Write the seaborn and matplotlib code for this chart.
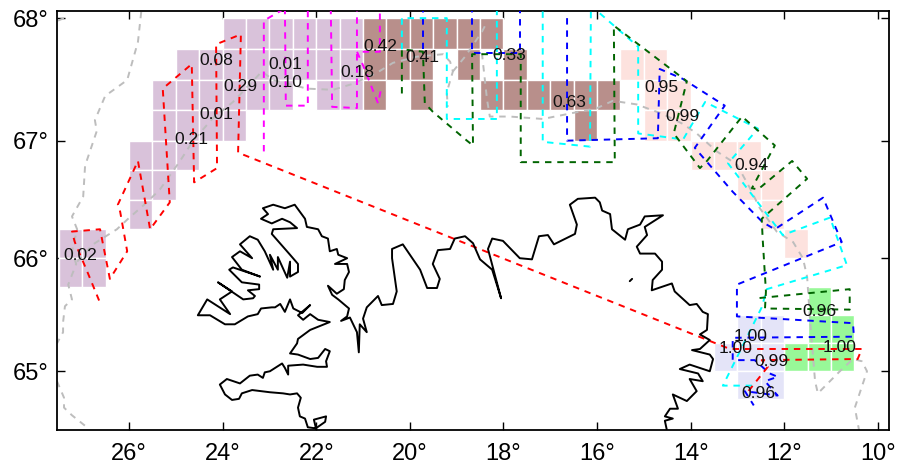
import numpy as np
import matplotlib
matplotlib.use("Agg")
import matplotlib.pyplot as plt
import seaborn as sns

cell_dlon = 0.5
cell_dlat = 0.25
# each: {north lat edge: [west lon edges]}
purple_cells = {68.0: [24, 23.5, 23, 22.5, 22, 21.5],
                67.75: [25, 24.5, 24, 23.5, 23, 22.5, 22, 21.5],
                67.5: [25.5, 25, 24.5, 24, 23.5, 23, 22, 21.5],
                67.25: [25.5, 25, 24.5, 24],
                67.0: [26, 25.5, 25],
                66.75: [26, 25.5],
                66.5: [26],
                66.25: [27.5, 27],
                66.0: [27.5, 27]}
brown_cells = {68.0: [21, 20.5, 20, 19.5, 19, 18.5],
               67.75: [21, 20.5, 20, 19, 18],
               67.5: [21, 20, 18.5, 18, 17.5, 17, 16.5, 16],
               67.25: [16.5]}
pink_cells = {67.75: [15.5, 15],
              67.5: [15, 14.5],
              67.25: [15, 14.5],
              67.0: [14, 13.5, 13],
              66.75: [13, 12.5],
              66.5: [12.5],
              66.25: [12]}
green_cells = {65.75: [11.5],
               65.5: [11.5, 11],
               65.25: [12, 11.5, 11]}
lavender_cells = {65.5: [13, 12.5],
                  65.25: [13.5, 13, 12.5],
                  65.0: [13, 12.5]}
cell_colors = ["#d9c2da", "#b88f8b", "#fde2de", "#98f898", "#e4e4f8"]

# ---- block labels
label_text = ["0.02", "0.21", "0.01", "0.29", "0.08", "0.01", "0.10", "0.18", "0.42", "0.41", "0.33",
              "0.63", "0.95", "0.99", "0.94", "0.96", "1.00", "1.00", "1.00", "0.99", "0.96"]
label_lon = [27.05, 24.66, 24.14, 23.63, 24.14, 22.67, 22.67, 21.13, 20.64, 19.74, 17.88,
             16.60, 14.63, 14.18, 12.69, 11.24, 12.71, 13.03, 10.81, 12.28, 12.56]
label_lat = [66.02, 67.01, 67.22, 67.45, 67.66, 67.63, 67.48, 67.56, 67.77, 67.68, 67.70,
             67.32, 67.44, 67.20, 66.79, 65.53, 65.31, 65.20, 65.21, 65.09, 64.80]

# ---- survey tracks
red_lon = [26.64, 26.88, 27.16, 27.22, 26.62, 26.41, 26.04, 26.19, 26.24, 25.81, 25.55, 25.13, 25.28, 24.66, 24.61,
           24.12, 24.14, 23.61, 23.67, 13.16, 10.34, 10.43, 12.48, 12.35, 12.84]
red_lat = [65.63, 65.87, 66.14, 66.23, 66.25, 65.82, 66.06, 66.40, 66.46, 66.83, 66.25, 66.48, 67.43, 67.63, 66.65,
           66.77, 67.79, 67.87, 66.90, 65.20, 65.20, 65.11, 65.10, 65.04, 64.78]
magenta_lon = [23.12, 23.12, 22.75, 22.67, 22.65, 22.18, 22.18, 21.69, 21.66, 21.13, 21.13, 20.64, 20.64, 21.13, 21.0, 20.68, 20.60]
magenta_lat = [66.91, 67.98, 68.06, 68.1, 67.29, 67.29, 68.1, 68.1, 67.28, 67.27, 68.1, 68.1, 67.73, 67.73, 67.62, 67.31, 67.45]
green_lon = [20.17, 20.17, 19.72, 19.68, 19.51, 18.78, 18.65, 18.67, 17.63, 17.63, 15.62, 15.64, 14.08, 14.36, 13.80, 13.65,
             12.90, 12.20, 12.69, 12.56, 11.83, 11.51, 12.48, 12.46, 12.39, 12.41, 10.60, 10.60, 12.58]
green_lat = [67.39, 67.75, 67.73, 67.31, 67.24, 67.0, 66.96, 67.71, 67.71, 66.82, 66.82, 67.94, 67.49, 67.06, 66.77, 66.83,
             67.20, 66.96, 66.60, 66.59, 66.83, 66.68, 66.34, 66.17, 65.71, 65.56, 65.55, 65.73, 65.65]
cyan_lon = [20.17, 20.17, 19.21, 19.21, 18.14, 18.14, 17.16, 17.16, 16.15, 16.13, 15.12, 15.12, 14.16, 13.69, 12.56, 13.20,
            12.03, 11.02, 10.66, 12.37, 12.48, 13.31, 12.58]
cyan_lat = [67.75, 68.0, 68.0, 67.18, 67.18, 68.1, 68.1, 66.99, 66.95, 68.1, 67.77, 67.06, 67.01, 67.32, 67.10, 66.81,
            66.20, 66.35, 65.94, 65.73, 65.57, 64.87, 64.87]
blue1_lon = [19.72, 19.72]
blue1_lat = [68.1, 67.75]
blue3_lon = [18.67, 18.67, 17.65, 17.65]
blue3_lat = [68.1, 67.72, 67.72, 68.1]
blue2_lon = [16.64, 16.64, 14.70, 14.66, 14.17, 13.27, 13.80, 13.91, 13.10, 12.46, 12.20, 11.17, 10.77, 13.01, 13.01,
             10.53, 10.51, 13.10, 13.10, 12.63, 12.31, 12.14, 12.41, 12.14, 12.84, 12.65]
blue2_lat = [68.0, 67.0, 67.02, 67.59, 67.51, 67.29, 67.0, 66.94, 66.57, 66.31, 66.25, 66.52, 66.14, 65.77, 65.49,
             65.43, 65.31, 65.30, 65.10, 65.10, 64.98, 64.95, 64.91, 64.78, 64.82, 64.69]

# ---- grey depth contours
grey1_lon = [25.74, 25.81, 26.04, 26.51, 26.73, 26.69, 26.94, 26.98, 27.22, 27.11, 27.22, 27.13, 27.30, 27.22, 27.37, 27.41, 27.41, 27.54]
grey1_lat = [68.05, 67.81, 67.50, 67.37, 67.17, 67.08, 66.79, 66.53, 66.36, 66.25, 66.06, 65.95, 65.77, 65.64, 65.58, 65.44, 65.35, 65.25]
grey2_lon = [27.54, 27.39, 27.39, 27.22, 26.90, 26.94]
grey2_lat = [64.91, 64.76, 64.67, 64.60, 64.49, 64.44]
grey3_lon = [27.11, 26.77, 26.26, 26.02, 25.62, 25.34, 24.91, 24.63, 24.20, 23.78, 23.16, 22.92, 22.20, 21.64, 21.21, 20.70,
             20.36, 19.85, 19.29, 19.14, 19.08, 19.21, 19.19]
grey3_lat = [65.97, 66.12, 66.25, 66.34, 66.48, 66.59, 66.83, 67.0, 67.19, 67.32, 67.57, 67.50, 67.43, 67.42, 67.47, 67.56,
             67.64, 67.69, 67.71, 67.65, 67.57, 67.40, 67.28]
grey4_lon = [19.08, 18.82, 18.46, 18.35]
grey4_lat = [67.57, 67.69, 67.89, 67.97]
grey5_lon = [18.46, 18.35, 18.29, 17.86, 17.16, 16.64, 16.0, 15.66, 15.15, 14.59, 14.17, 13.87, 13.44, 13.01, 12.73, 12.52,
             12.16, 11.81, 11.60, 11.51, 11.45, 11.34, 11.28, 10.81, 10.53, 10.34, 10.23, 10.49, 10.39]
grey5_lat = [67.72, 67.34, 67.20, 67.20, 67.18, 67.22, 67.27, 67.33, 67.30, 67.22, 67.14, 67.06, 66.91, 66.80, 66.60, 66.43,
             66.23, 66.14, 66.0, 65.84, 65.47, 64.91, 64.80, 65.0, 65.11, 65.09, 65.0, 64.67, 64.44]
grey6_lon = [27.52, 27.39]
grey6_lat = [67.98, 68.0]

# ---- coastline
coast_lon = [22.0, 22.05, 21.79, 21.81, 22.01, 22.18, 22.24, 22.35, 22.39, 22.33, 22.41, 22.56, 22.71, 22.99, 23.37, 23.59,
             23.65, 23.80, 23.95, 24.06, 23.91, 23.63, 23.42, 23.25, 23.14, 23.10, 22.99, 22.84, 22.73, 22.67, 22.60, 22.60,
             22.28, 21.98, 21.77, 21.79, 21.71, 21.81, 21.96, 22.13, 22.39, 22.56, 22.41, 22.39, 22.13, 21.71, 21.96, 22.13,
             22.28, 22.39, 22.13, 22.30, 22.49, 22.56, 22.67, 22.77, 22.88, 22.95, 23.18, 23.25, 23.46, 23.74, 23.95, 24.27,
             24.53, 24.33, 23.99, 23.84, 24.06, 23.80, 24.10, 23.56, 23.35, 23.31, 23.46, 23.22, 23.22, 23.59, 23.86, 23.78,
             23.20, 23.59, 23.80, 23.63, 23.37, 23.63, 23.42, 23.25, 23.10, 22.92, 22.99, 22.82, 22.82, 22.62, 22.56, 22.56,
             22.39, 22.39, 22.56, 22.95, 22.92, 22.41, 22.56, 22.73, 22.95, 23.18, 23.03, 23.14, 22.92, 22.67, 22.46, 22.24,
             22.20, 21.96, 21.88, 21.75, 21.71, 21.56, 21.53, 21.34, 21.60, 21.34, 21.30, 21.39, 21.41, 21.56, 21.75, 21.66,
             21.53, 21.30, 21.34, 21.47, 21.28, 21.13, 21.09, 21.07, 20.92, 21.0, 20.92, 20.68, 20.60, 20.36, 20.28, 20.38,
             20.38, 20.15, 19.78, 19.63, 19.42, 19.36, 19.51, 19.40, 19.14, 19.04, 18.82, 18.65, 18.50, 18.24, 18.14, 18.05,
             18.14, 18.33, 18.24, 18.01, 17.65, 17.39, 17.24, 17.05, 16.92, 16.47, 16.43, 16.58, 16.41, 16.04, 15.94, 15.89,
             15.72, 15.68, 15.40, 15.34, 15.08, 14.98, 14.59, 14.98, 14.93, 15.15, 15.08, 14.76, 14.61, 14.61, 14.81, 14.83,
             14.40, 14.34, 14.02, 13.87, 13.74, 13.63, 13.65, 13.80, 13.59, 13.80, 13.97, 13.59, 13.52, 13.59, 14.02, 14.23,
             13.84, 13.74, 14.02, 13.87, 14.08, 14.38, 14.27, 14.44, 14.55, 14.38, 14.55, 14.51]
coast_lat = [64.47, 64.56, 64.59, 64.54, 64.48, 64.49, 64.57, 64.59, 64.67, 64.76, 64.80, 64.79, 64.80, 64.81, 64.83, 64.80,
             64.75, 64.74, 64.79, 64.88, 64.93, 64.89, 64.96, 64.97, 64.94, 64.99, 65.00, 65.04, 65.07, 65.03, 64.97, 65.05,
             65.06, 65.04, 65.04, 65.09, 65.18, 65.20, 65.12, 65.11, 65.15, 65.16, 65.25, 65.29, 65.37, 65.44, 65.46, 65.51,
             65.46, 65.50, 65.59, 65.52, 65.56, 65.64, 65.53, 65.60, 65.57, 65.57, 65.56, 65.51, 65.49, 65.42, 65.42, 65.50,
             65.50, 65.64, 65.55, 65.51, 65.64, 65.71, 65.79, 65.64, 65.65, 65.67, 65.72, 65.73, 65.77, 65.79, 65.90, 65.92,
             65.84, 65.90, 66.01, 66.06, 66.0, 66.12, 66.19, 66.16, 66.06, 65.90, 66.03, 65.90, 66.01, 65.83, 65.97, 65.84,
             65.88, 65.95, 66.03, 66.21, 66.25, 66.26, 66.31, 66.34, 66.30, 66.34, 66.38, 66.43, 66.46, 66.43, 66.46, 66.34,
             66.27, 66.25, 66.19, 66.17, 66.06, 66.08, 66.03, 66.0, 65.95, 65.95, 65.88, 65.81, 65.73, 65.69, 65.76, 65.68,
             65.64, 65.56, 65.49, 65.45, 65.48, 65.35, 65.17, 65.42, 65.35, 65.47, 65.57, 65.67, 65.59, 65.60, 65.71, 66.0,
             66.08, 66.12, 65.90, 65.74, 65.74, 65.82, 65.95, 66.07, 66.08, 66.17, 66.19, 66.13, 65.99, 65.90, 65.77, 65.65,
             65.79, 66.08, 66.17, 66.15, 66.0, 65.99, 66.19, 66.20, 66.12, 66.21, 66.29, 66.46, 66.51, 66.52, 66.48, 66.41,
             66.38, 66.25, 66.16, 66.25, 66.29, 66.36, 66.37, 66.27, 66.20, 66.10, 66.04, 66.04, 65.97, 65.90, 65.81, 65.72,
             65.78, 65.71, 65.59, 65.60, 65.53, 65.51, 65.37, 65.33, 65.28, 65.20, 65.19, 65.15, 65.11, 65.0, 65.06, 65.02,
             64.98, 64.91, 64.93, 64.82, 64.73, 64.79, 64.66, 64.66, 64.59, 64.57, 64.55, 64.47]
islet_lon = [15.30, 15.25]
islet_lat = [65.80, 65.82]

x_ticks = [26, 24, 22, 20, 18, 16, 14, 12, 10]
y_ticks = [65, 66, 67, 68]

sns.set_style("ticks")
plt.rcParams["font.family"] = ["Liberation Sans", "DejaVu Sans"]


def merc(lat):
    lat = np.clip(np.asarray(lat, dtype=float), 0.0, 89.0)
    return np.degrees(np.log(np.tan(np.pi / 4 + np.radians(lat) / 2)))


def merc_inv(v):
    return np.degrees(2 * np.arctan(np.exp(np.radians(np.asarray(v, dtype=float)))) - np.pi / 2)


fig = plt.figure(figsize=(8.98, 4.73), dpi=100)
ax = fig.add_axes([57 / 898, 1 - 430 / 473, (889 - 57) / 898, (430 - 11) / 473])
ax.set_yscale("function", functions=(merc, merc_inv))

for cells, color in zip([purple_cells, brown_cells, pink_cells, green_cells, lavender_cells], cell_colors):
    for north, wests in cells.items():
        for west in wests:
            ax.bar(west, cell_dlat, width=-cell_dlon, bottom=north - cell_dlat, align="edge",
                   color=color, edgecolor="white", linewidth=1.0, zorder=1)


def track(lon, lat, color, z, lw=1.4, dash=(3.3, 3.0)):
    sns.lineplot(x=lon, y=lat, sort=False, estimator=None, color=color, linewidth=lw,
                 linestyle=(0, dash), ax=ax, zorder=z)


grey = "#bdbdbd"
for lo, la in [(grey1_lon, grey1_lat), (grey2_lon, grey2_lat), (grey3_lon, grey3_lat),
               (grey4_lon, grey4_lat), (grey5_lon, grey5_lat), (grey6_lon, grey6_lat)]:
    track(lo, la, grey, 2)
track(blue1_lon, blue1_lat, "#0000ff", 3)
track(blue3_lon, blue3_lat, "#0000ff", 3)
track(blue2_lon, blue2_lat, "#0000ff", 3)
track(cyan_lon, cyan_lat, "#00ffff", 3.1)
track(green_lon, green_lat, "#006400", 3.2)
track(magenta_lon, magenta_lat, "#ff00ff", 3.3)
track(red_lon, red_lat, "#ff0000", 3.4)

sns.lineplot(x=coast_lon, y=coast_lat, sort=False, estimator=None, color="black", linewidth=1.4,
             solid_joinstyle="round", ax=ax, zorder=4)
sns.lineplot(x=islet_lon, y=islet_lat, sort=False, estimator=None, color="black", linewidth=1.4, ax=ax, zorder=4)

for t, lo, la in zip(label_text, label_lon, label_lat):
    ax.text(lo, la, t, ha="center", va="center", fontsize=12.6, color="#111111", zorder=5)

ax.set_xlim(27.54, 9.76)
ax.set_ylim(64.465, 68.057)
ax.set_xticks(x_ticks)
ax.set_xticklabels([f"{v}°" for v in x_ticks])
ax.set_yticks(y_ticks)
ax.set_yticklabels([f"{v}°" for v in y_ticks])
ax.minorticks_off()
ax.tick_params(axis="both", which="major", direction="in", length=6, width=1.0, top=True, right=True,
               labelsize=17, colors="black")
ax.tick_params(axis="x", pad=9)
ax.tick_params(axis="y", pad=6)
ax.set_xlabel("")
ax.set_ylabel("")
for s in ax.spines.values():
    s.set_linewidth(1.3)
    s.set_color("black")

fig.savefig("out.png", dpi=100)
